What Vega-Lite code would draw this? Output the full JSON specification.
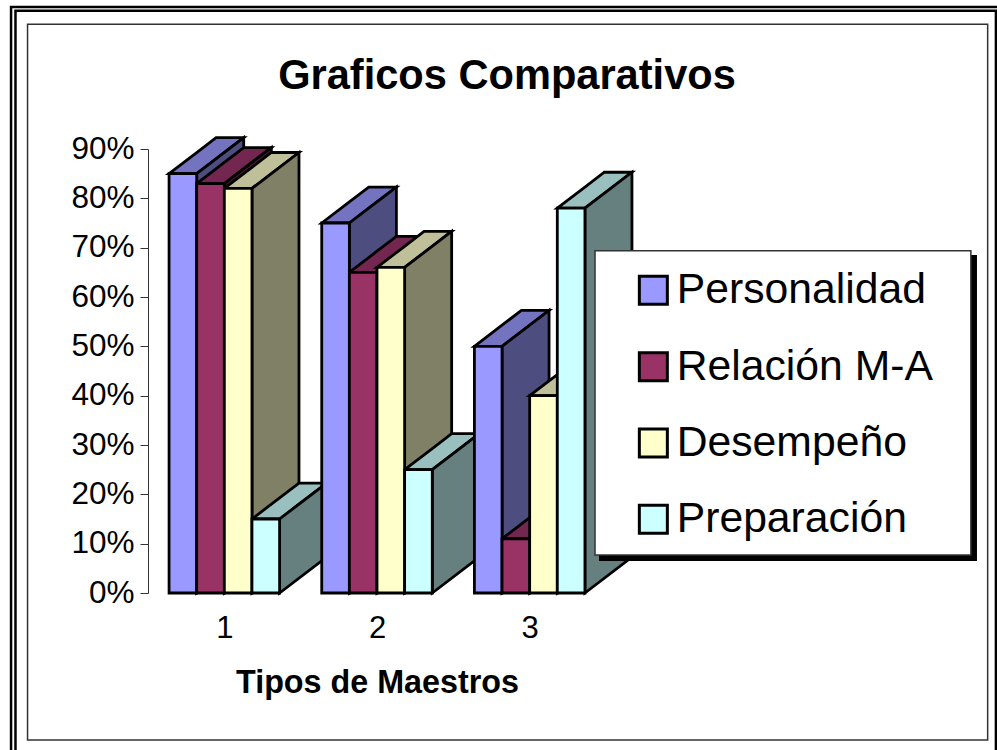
{
"$schema":"https://vega.github.io/schema/vega-lite/v6.json",
"width":458,"height":444,
"autosize":"none",
"padding":{"left":148,"top":149,"right":391,"bottom":157},
"background":"white",
"title":{"text":"Graficos Comparativos","font":"Liberation Sans","fontSize":41.6,"fontWeight":"bold","color":"black","anchor":"middle","frame":"group","dx":130,"offset":-125,"baseline":"alphabetic"},
"config":{"view":{"stroke":null},"font":"Liberation Sans"},
"data":{"values":[
{"tipo":1,"serie":"Personalidad","valor":85},
{"tipo":1,"serie":"Relación M-A","valor":83},
{"tipo":1,"serie":"Desempeño","valor":82},
{"tipo":1,"serie":"Preparación","valor":15},
{"tipo":2,"serie":"Personalidad","valor":75},
{"tipo":2,"serie":"Relación M-A","valor":65},
{"tipo":2,"serie":"Desempeño","valor":66},
{"tipo":2,"serie":"Preparación","valor":25},
{"tipo":3,"serie":"Personalidad","valor":50},
{"tipo":3,"serie":"Relación M-A","valor":11},
{"tipo":3,"serie":"Desempeño","valor":40},
{"tipo":3,"serie":"Preparación","valor":78}
]},
"transform":[
{"calculate":"datum.tipo+(indexof(['Personalidad','Relación M-A','Desempeño','Preparación'],datum.serie)-2)*0.181","as":"x0"},
{"calculate":"datum.x0+0.181","as":"x1"}
],
"layer":[
{"data":{"values":[{"marco":"exterior"}]},
 "mark":{"type":"rect","fill":"transparent","stroke":"black","strokeWidth":2.5,"clip":false},
 "encoding":{"x":{"datum":-0.397,"scale":{"domain":[0.5,3.5],"nice":false,"zero":false},
   "axis":{"values":[1,2,3],"format":"d","title":"Tipos de Maestros","domain":false,"ticks":false,"grid":false,"labelFontSize":31,"labelColor":"black","labelPadding":20,"labelFont":"Liberation Sans","titleFont":"Liberation Sans","titleFontSize":32.3,"titleFontWeight":"bold","titleColor":"black","titlePadding":23}},
  "x2":{"datum":6.146},
  "y":{"datum":118.8,"scale":{"domain":[0,90],"nice":false},
   "axis":{"values":[0,10,20,30,40,50,60,70,80,90],"labelExpr":"datum.value+'%'","title":null,"grid":false,"domainColor":"#333333","tickColor":"#333333","tickSize":8,"labelFontSize":31.5,"labelColor":"black","labelPadding":6,"labelFont":"Liberation Sans"}},
  "y2":{"datum":-33.9}}},
{"data":{"values":[{"marco":"interior"}]},
 "mark":{"type":"rect","fill":"transparent","stroke":"black","strokeWidth":2.5,"clip":false},
 "encoding":{"x":{"datum":-0.368},"x2":{"datum":6.054},"y":{"datum":118},"y2":{"datum":-33.9}}},
{"data":{"values":[{"marco":"grafico"}]},
 "mark":{"type":"rect","fill":"transparent","stroke":"#333333","strokeWidth":1.5,"clip":false},
 "encoding":{"x":{"datum":-0.289},"x2":{"datum":6.0},"y":{"datum":115.3},"y2":{"datum":-29.8}}},
{"transform":[
 {"fold":["a","b","c","d","e","f"],"as":["k","v"]},
 {"calculate":"datum.k=='a'?datum.x0:datum.k=='b'?datum.x1:datum.k=='c'?datum.x0+0.308:datum.k=='d'?datum.x1+0.308:datum.k=='e'?datum.x1:datum.x1+0.308","as":"xp"},
 {"calculate":"datum.k=='a'?datum.valor:datum.k=='b'?datum.valor+7.29*0.181/0.308:datum.k=='e'?datum.valor:datum.valor+7.29","as":"up"},
 {"calculate":"datum.k=='a'||datum.k=='b'?datum.valor:datum.k=='c'?datum.valor+7.29*(0.308-0.181)/0.308:datum.k=='d'?datum.valor+7.29:datum.k=='e'?0:7.29","as":"lo"},
 {"calculate":"datum.serie+(datum.k=='e'||datum.k=='f'?' lado':' techo')","as":"cara"}],
 "mark":{"type":"area","stroke":"black","strokeWidth":2.8,"strokeJoin":"miter","clip":false,"opacity":1},
 "encoding":{
  "x":{"field":"xp","type":"quantitative"},
  "y":{"field":"up","type":"quantitative"},
  "y2":{"field":"lo"},
  "detail":{"field":"tipo"},
  "color":{"field":"cara","type":"nominal","legend":null,"scale":{"domain":["Personalidad lado","Relación M-A lado","Desempeño lado","Preparación lado","Personalidad techo","Relación M-A techo","Desempeño techo","Preparación techo"],"range":["#4D4D80","#4D1A33","#808066","#668080","#7373BF","#732650","#BFBF99","#99BFBF"]}}}},
{"mark":{"type":"bar","stroke":"black","strokeWidth":2.8,"clip":false,"opacity":1},
 "encoding":{
  "x":{"field":"x0","type":"quantitative"},
  "x2":{"field":"x1"},
  "y":{"field":"valor","type":"quantitative","stack":null},
  "y2":{"datum":0},
  "color":{"field":"serie","type":"nominal","scale":{"domain":["Personalidad","Relación M-A","Desempeño","Preparación"],"range":["#9999FF","#993366","#FFFFCC","#CCFFFF"]},
   "legend":{"title":null,"orient":"none","legendX":484,"legendY":120,"zindex":2,"symbolType":"square","symbolSize":784,"symbolStrokeColor":"black","symbolStrokeWidth":3,"symbolOpacity":1,"labelFontSize":42.7,"labelFont":"Liberation Sans","labelColor":"black","labelLimit":400,"labelOffset":2,"rowPadding":32.3,"padding":0,"values":["Personalidad","Relación M-A","Desempeño","Preparación"]}}}},
{"data":{"values":[{"caja":"sombra"}]},
 "mark":{"type":"rect","fill":"black","clip":false},
 "encoding":{"x":{"datum":3.454},"x2":{"datum":5.93},"y":{"datum":68.5},"y2":{"datum":6.5}}},
{"data":{"values":[{"caja":"leyenda"}]},
 "mark":{"type":"rect","fill":"white","stroke":"#333333","strokeWidth":1.5,"clip":false},
 "encoding":{"x":{"datum":3.428},"x2":{"datum":5.89},"y":{"datum":69.4},"y2":{"datum":7.7}}}
],
"resolve":{"scale":{"color":"independent"}}
}
